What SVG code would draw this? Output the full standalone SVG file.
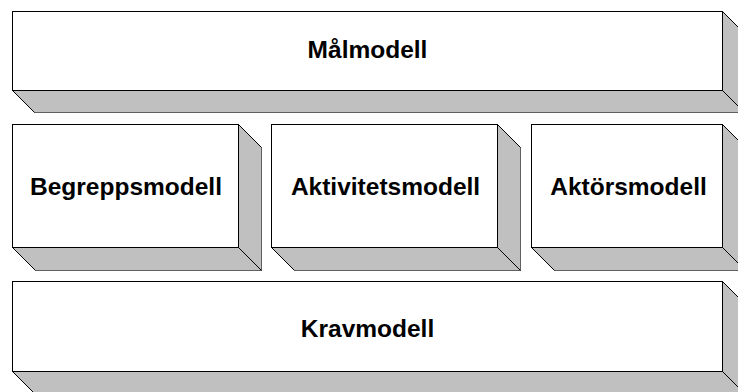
<svg xmlns="http://www.w3.org/2000/svg" width="738" height="392" viewBox="0 0 738 392">
  <style>
    .front { fill: #ffffff; stroke: #000000; stroke-width: 1; }
    .side { fill: #c0c0c0; stroke: #606060; stroke-width: 1; }
    .edge { stroke: #000000; stroke-width: 1; fill: none; }
    .label { font-family: "Liberation Sans", Arial, sans-serif; font-weight: bold; font-size: 24.5px; fill: #000000; text-anchor: middle; }
  </style>
  <rect width="738" height="392" fill="#ffffff"/>

  <!-- Top layer -->
  <g id="malmodell">
    <polygon class="side" points="12.5,90.5 722.5,90.5 744.5,112.5 34.5,112.5"/>
    <polygon class="side" points="722.5,11.5 744.5,33.5 744.5,112.5 722.5,90.5"/>
    <path class="edge" d="M12.5,90.5 L34.5,112.5 M722.5,11.5 L744.5,33.5 M722.5,90.5 L744.5,112.5"/>
    <rect class="front" x="12.5" y="11.5" width="710" height="79"/>
    <text class="label" x="367.5" y="57.5">Målmodell</text>
  </g>

  <!-- Middle layer -->
  <g id="begreppsmodell">
    <polygon class="side" points="12.5,247.5 238.5,247.5 261.5,270.5 35.5,270.5"/>
    <polygon class="side" points="238.5,124.5 261.5,147.5 261.5,270.5 238.5,247.5"/>
    <path class="edge" d="M12.5,247.5 L35.5,270.5 M238.5,124.5 L261.5,147.5 M238.5,247.5 L261.5,270.5"/>
    <rect class="front" x="12.5" y="124.5" width="226" height="123"/>
    <text class="label" x="126" y="195">Begreppsmodell</text>
  </g>

  <g id="aktivitetsmodell">
    <polygon class="side" points="271.5,247.5 497.5,247.5 520.5,270.5 294.5,270.5"/>
    <polygon class="side" points="497.5,124.5 520.5,147.5 520.5,270.5 497.5,247.5"/>
    <path class="edge" d="M271.5,247.5 L294.5,270.5 M497.5,124.5 L520.5,147.5 M497.5,247.5 L520.5,270.5"/>
    <rect class="front" x="271.5" y="124.5" width="226" height="123"/>
    <text class="label" x="385.5" y="195">Aktivitetsmodell</text>
  </g>

  <g id="aktorsmodell">
    <polygon class="side" points="531.5,247.5 722.5,247.5 745.5,270.5 554.5,270.5"/>
    <polygon class="side" points="722.5,124.5 745.5,147.5 745.5,270.5 722.5,247.5"/>
    <path class="edge" d="M531.5,247.5 L554.5,270.5 M722.5,124.5 L745.5,147.5 M722.5,247.5 L745.5,270.5"/>
    <rect class="front" x="531.5" y="124.5" width="191" height="123"/>
    <text class="label" x="628.5" y="195">Aktörsmodell</text>
  </g>

  <!-- Bottom layer -->
  <g id="kravmodell">
    <polygon class="side" points="12.5,371.5 722.5,371.5 744.5,393.5 34.5,393.5"/>
    <polygon class="side" points="722.5,281.5 744.5,303.5 744.5,393.5 722.5,371.5"/>
    <path class="edge" d="M12.5,371.5 L34.5,393.5 M722.5,281.5 L744.5,303.5 M722.5,371.5 L744.5,393.5"/>
    <rect class="front" x="12.5" y="281.5" width="710" height="90"/>
    <text class="label" x="367.5" y="336.5">Kravmodell</text>
  </g>

  <g id="connectors"/>
</svg>
